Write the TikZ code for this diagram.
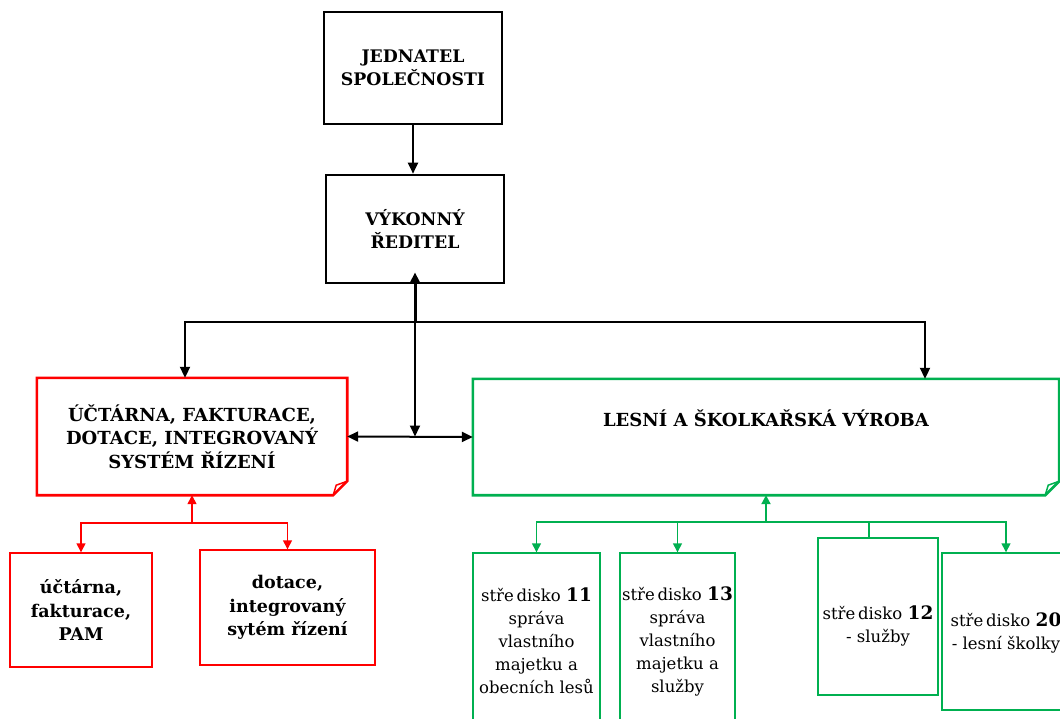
\documentclass[tikz,border=0pt]{standalone}
\usepackage{fontspec}
\setmainfont{DejaVu Serif}
\usetikzlibrary{arrows.meta}
\definecolor{ogreen}{RGB}{0,176,80}
\definecolor{ored}{RGB}{255,0,0}
\tikzset{
  titlebox/.style={draw=black, line width=2.6pt, inner sep=0pt, align=center,
    font=\fontsize{17.3}{22.5}\selectfont\bfseries},
  foldbox/.style={inner sep=0pt, align=center, font=\fontsize{18}{23.5}\selectfont\bfseries},
  redsub/.style={draw=ored, line width=1.4pt, inner sep=0pt, align=center,
    font=\fontsize{17.5}{23.5}\selectfont\bfseries},
  greensub/.style={draw=ogreen, line width=1.4pt, inner sep=0pt, align=center},
  greentext/.style={inner sep=0pt, align=center, font=\fontsize{16.5}{23}\selectfont},
  conn/.style={draw=black, line width=2pt},
  rconn/.style={draw=ored, line width=1.4pt},
  gconn/.style={draw=ogreen, line width=1.4pt},
  bk/.style={-{Triangle[length=11pt,width=10pt]}},
  sm/.style={-{Triangle[length=9pt,width=9pt]}},
}
\newcommand{\numb}[1]{{\fontsize{18.5}{23}\selectfont\bfseries #1}}
\begin{document}
\begin{tikzpicture}[x=1pt,y=-1pt]
\useasboundingbox (0,0) rectangle (1060,719);
\clip (0,0) rectangle (1060,719);
\fill[white] (0,0) rectangle (1060,719);

% top boxes
\node[titlebox, minimum width=178pt, minimum height=112pt] (jed) at (413,68) {JEDNATEL\\SPOLEČNOSTI};
\node[titlebox, minimum width=178pt, minimum height=108pt] (vyk) at (415,229) {VÝKONNÝ\\ŘEDITEL};

% folded boxes
\node[foldbox, minimum width=310pt, minimum height=117pt] (red) at (192,436.5) {ÚČTÁRNA, FAKTURACE,\\DOTACE, INTEGROVANÝ\\SYSTÉM ŘÍZENÍ};
\draw[ored, line width=2.6pt, line join=miter] (red.north west) -- (red.north east) -- ([yshift=14pt]red.south east) -- ([xshift=-14pt]red.south east) -- (red.south west) -- cycle;
\draw[ored, line width=1.5pt] ([xshift=-14pt]red.south east) -- ([xshift=-11pt,yshift=10pt]red.south east) -- ([yshift=14pt]red.south east);

\node[foldbox, minimum width=586pt, minimum height=116pt] (green) at (766,437) {};
\node[foldbox, anchor=center] (greent) at (766,418) {LESNÍ A ŠKOLKAŘSKÁ VÝROBA};
\draw[ogreen, line width=2.6pt, line join=miter] (green.north west) -- (green.north east) -- ([yshift=14pt]green.south east) -- ([xshift=-14pt]green.south east) -- (green.south west) -- cycle;
\draw[ogreen, line width=1.5pt] ([xshift=-14pt]green.south east) -- ([xshift=-11pt,yshift=10pt]green.south east) -- ([yshift=14pt]green.south east);

% red sub boxes
\node[redsub, minimum width=142pt, minimum height=114pt] (rs1) at (81,610) {účtárna,\\fakturace,\\PAM};
\node[redsub, minimum width=175pt, minimum height=115pt] (rs2) at (287.5,607.5) {dotace,\\integrovaný\\sytém řízení};

% green sub boxes
\node[greensub, minimum width=127pt, minimum height=177pt] (gs1) at (536.5,641.5) {};
\node[greentext] (gs1t) at (536.5,641) {stře\,disko \numb{11}\\správa\\vlastního\\majetku a\\obecních lesů};
\node[greensub, minimum width=115pt, minimum height=177pt] (gs2) at (677.5,641.5) {};
\node[greentext] (gs2t) at (677.5,641) {stře\,disko \numb{13}\\správa\\vlastního\\majetku a\\služby};
\node[greensub, minimum width=120pt, minimum height=157pt] (gs3) at (878,616.5) {};
\node[greentext] (gs3t) at (878,626) {stře\,disko \numb{12}\\- služby};
\node[greensub, minimum width=140pt, minimum height=157pt] (gs4) at (1012,631.5) {};
\node[greentext] (gs4t) at (1006,633) {stře\,disko \numb{20}\\- lesní školky};

% black connectors
\coordinate (hub) at (415,322);
\draw[conn, bk] (jed.south) -- (jed.south |- vyk.north);
\draw[conn, line width=3pt, bk] (hub) -- ([yshift=12pt]vyk.south);
\draw[conn, bk] (hub) -- (hub |- red.east);
\draw[conn, {Triangle[length=11pt,width=10pt]}-{Triangle[length=11pt,width=10pt]}] (red.east) -- (green.west);
\draw[conn, bk] (hub) -| ([xshift=-7pt]red.north);
\draw[conn, bk] (hub) -| ([xshift=159pt]green.north);

% red connectors
\coordinate (rhub) at (192,523);
\draw[rconn, sm] (rhub) -- (red.south);
\draw[rconn, sm] (rhub) -| (rs1.north);
\draw[rconn, sm] (rhub) -| (rs2.north);

% green connectors
\coordinate (ghub) at (766,522);
\draw[gconn, line width=2pt, sm] (ghub) -- (green.south);
\draw[gconn, sm] (ghub) -| (gs1.north);
\draw[gconn, sm] (ghub) -| (gs2.north);
\draw[gconn] (ghub) -| ([xshift=-9pt]gs3.north);
\draw[gconn, sm] (ghub) -| ([xshift=-6pt]gs4.north);
\end{tikzpicture}
\end{document}
